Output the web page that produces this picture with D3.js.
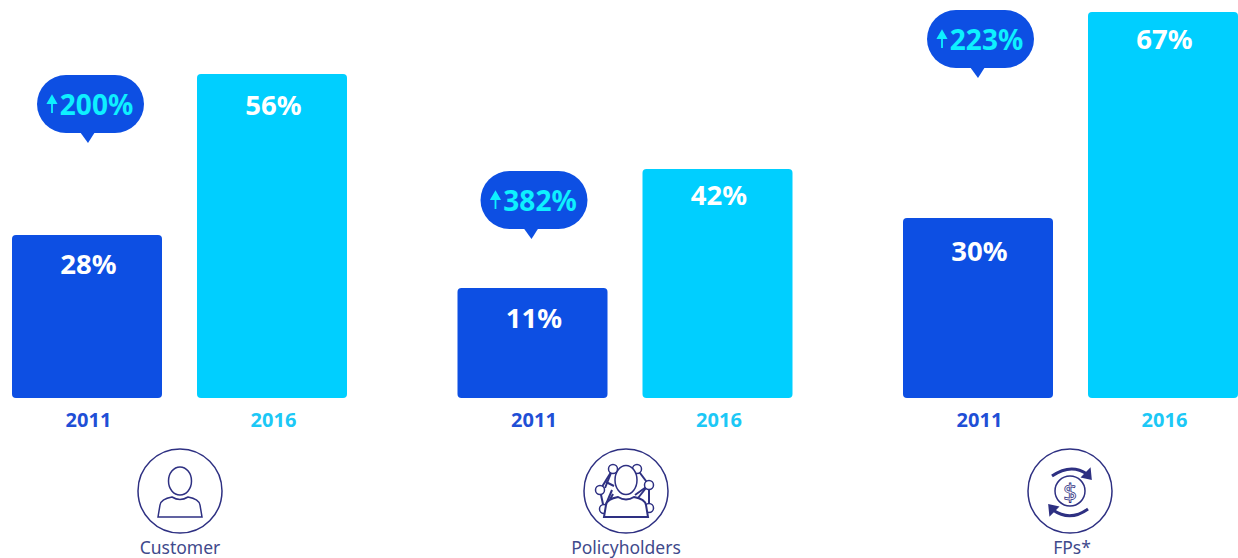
<!DOCTYPE html>
<html>
<head>
<meta charset="utf-8">
<script src="https://cdn.jsdelivr.net/npm/d3@7"></script>
<style>
  html, body { margin: 0; padding: 0; background: #fff; }
  svg { display: block; }
  text { font-family: "Noto Sans", sans-serif; }
</style>
</head>
<body>
<div id="chart"></div>
<script>
const categories = ["Customer", "Policyholders", "FPs*"];
const years = ["2011", "2016"];
const values2011 = [28, 11, 30];
const values2016 = [56, 42, 67];
const increases = ["200%", "382%", "223%"];

const width = 1238;
const height = 558;
const baseline = 398;
const barWidth = 150;

const darkBlue = "#0d4fe3";
const cyan = "#00cfff";
const iconBlue = "#2e3082";
const labelBlue = "#3f4a8c";

// small nudges because the original labels do not sit at a constant distance
const labelDrop2011 = [30, 31, 34];
const labelDrop2016 = [32, 27, 28];
const bubbleNudge = [1, 2, -2];
const bubbleShift = [0, -2, -1];

const svg = d3.select("#chart").append("svg")
    .attr("width", width)
    .attr("height", height)
    .attr("viewBox", `0 0 ${width} ${height}`);

const xGroup = d3.scaleBand().domain(categories).range([12, 12 + 445.5 * 3]).paddingInner(0).paddingOuter(0).align(0);
const xYear = d3.scaleBand().domain(years).range([0, 335]).paddingInner(35 / 185).paddingOuter(0);

// the bars in the original are not in proportion to their labels, so the scale is piecewise
const yScale = d3.scaleLinear()
    .domain([0, 11, 28, 30, 42, 56, 67])
    .range([baseline, 288, 235, 218, 169, 74, 12]);

const rows = categories.map((c, i) => ({
  category: c,
  i: i,
  bars: [
    {year: years[0], value: values2011[i], color: darkBlue, drop: labelDrop2011[i]},
    {year: years[1], value: values2016[i], color: cyan, drop: labelDrop2016[i]}
  ]
}));

const groups = svg.selectAll("g.group")
  .data(rows).enter()
  .append("g")
    .attr("class", "group")
    .attr("transform", d => `translate(${xGroup(d.category)},0)`);

const bars = groups.selectAll("g.bar")
  .data(d => d.bars).enter()
  .append("g")
    .attr("class", "bar")
    .attr("transform", d => `translate(${xYear(d.year)},0)`);

bars.append("rect")
    .attr("y", d => yScale(d.value))
    .attr("width", xYear.bandwidth())
    .attr("height", d => baseline - yScale(d.value))
    .attr("rx", 4)
    .attr("fill", d => d.color);

bars.append("text")
    .attr("x", barWidth / 2 + 1.5)
    .attr("y", d => yScale(d.value) + d.drop - 2)
    .attr("text-anchor", "middle")
    .attr("dominant-baseline", "central")
    .attr("font-size", 27.5)
    .attr("font-weight", 700)
    .attr("fill", "#fff")
    .text(d => d.value + "%");

bars.append("text")
    .attr("x", barWidth / 2 + 1.5)
    .attr("y", 419)
    .attr("text-anchor", "middle")
    .attr("dominant-baseline", "central")
    .attr("font-size", 20)
    .attr("font-weight", 700)
    .attr("fill", d => d.color === cyan ? "#1cc8f6" : "#1f4fd6")
    .text(d => d.year);

// speech bubbles, pointing at the 2011 bar and level with the top of the 2016 bar
const bubble = groups.append("g")
    .attr("transform", d => `translate(${barWidth / 2 + bubbleShift[d.i]},${yScale(values2016[d.i]) + bubbleNudge[d.i]})`);

bubble.append("rect")
    .attr("x", -50)
    .attr("width", 107)
    .attr("height", 58)
    .attr("rx", 29)
    .attr("fill", darkBlue);

bubble.append("path")
    .attr("d", "M-7,57L1,68L8,57Z")
    .attr("fill", darkBlue);

bubble.append("text")
    .attr("x", 9.5)
    .attr("y", 29)
    .attr("text-anchor", "middle")
    .attr("dominant-baseline", "central")
    .attr("font-size", 28)
    .attr("font-weight", 700)
    .attr("fill", "#0ef0ff")
    .text(d => increases[d.i]);

bubble.append("path")
    .attr("d", "M-35,38V26M-39,28L-35,21L-31,28Z")
    .attr("stroke", "#0ef0ff")
    .attr("stroke-width", 1.8)
    .attr("fill", "#0ef0ff");

// icons under each pair of bars
const iconX = [180, 626, 1070];
const labelX = [180, 626, 1072];

const icons = svg.selectAll("g.icon")
  .data(categories).enter()
  .append("g")
    .attr("class", "icon")
    .attr("transform", (d, i) => `translate(${iconX[i]},491)`)
    .attr("fill", "none")
    .attr("stroke", iconBlue)
    .attr("stroke-width", 1.5);

icons.append("circle").attr("r", 42);

const shoulders = "M-22,26L-20,14Q-19,8 -8,6Q0,11 8,6Q19,8 20,14L22,26Z";

icons.filter((d, i) => i === 0).call(g => {
  g.append("ellipse").attr("cy", -10).attr("rx", 11.5).attr("ry", 14);
  g.append("path").attr("d", shoulders);
});

icons.filter((d, i) => i === 1).call(g => {
  const nodes = [[-13, -22], [11, -22], [23, -6], [-26, -1], [-22, 18], [23, 17]];
  const links = [
    [[-13, -22], [-26, -1]], [[-15, -18], [-21, -3]], [[-20, -9], [-12, -5]],
    [[-26, -1], [-22, 18]], [[-22, 18], [-14, -1]], [[-19, 14], [-13, 3]],
    [[11, -22], [23, -6]], [[23, -6], [9, 4]], [[20, -3], [12, 7]], [[23, -6], [23, 17]]
  ];
  g.selectAll("line")
    .data(links).enter()
    .append("line")
      .attr("x1", d => d[0][0])
      .attr("y1", d => d[0][1])
      .attr("x2", d => d[1][0])
      .attr("y2", d => d[1][1])
      .attr("stroke-width", 2);
  g.selectAll("circle.node")
    .data(nodes).enter()
    .append("circle")
      .attr("class", "node")
      .attr("cx", d => d[0])
      .attr("cy", d => d[1])
      .attr("r", 4.5)
      .attr("fill", "#fff");
  g.append("ellipse").attr("cy", -11).attr("rx", 11).attr("ry", 14.5).attr("fill", "#fff");
  g.append("path").attr("d", shoulders).attr("fill", "#fff").attr("stroke-width", 2);
});

icons.filter((d, i) => i === 2).call(g => {
  g.append("circle").attr("r", 15);
  g.append("text")
      .attr("text-anchor", "middle")
      .attr("dominant-baseline", "central")
      .attr("font-size", 24)
      .attr("stroke-width", 0.8)
      .attr("fill", "#fff")
      .text("$");
  g.append("path").attr("d", "M-18,-15Q1,-28 17,-17").attr("stroke-width", 3);
  g.append("path").attr("d", "M20,-22L21,-12L12,-14Z").attr("fill", iconBlue);
  g.append("path").attr("d", "M18,18Q0,31 -17,19").attr("stroke-width", 3);
  g.append("path").attr("d", "M-20,24L-21,14L-12,16Z").attr("fill", iconBlue);
});

svg.selectAll("text.category")
  .data(categories).enter()
  .append("text")
    .attr("class", "category")
    .attr("x", (d, i) => labelX[i])
    .attr("y", 547)
    .attr("text-anchor", "middle")
    .attr("dominant-baseline", "central")
    .attr("font-size", 17.5)
    .attr("fill", labelBlue)
    .text(d => d);
</script>
</body>
</html>
